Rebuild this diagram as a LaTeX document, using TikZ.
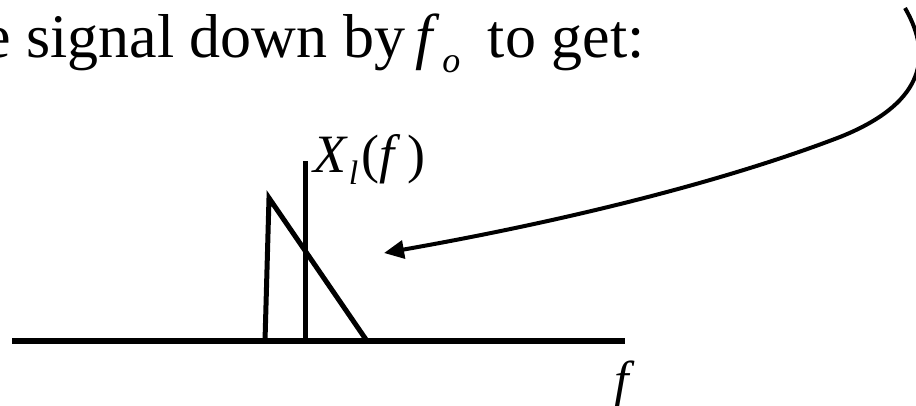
\documentclass[tikz,border=0pt]{standalone}
\usepackage{fontspec}
\setmainfont{Liberation Serif}
\usetikzlibrary{arrows.meta,positioning}
\tikzset{
  fax/.style={line width=6pt},
  vax/.style={line width=5pt},
  spec/.style={line width=5pt, line join=miter},
  shiftarr/.style={line width=4pt, -{Triangle[length=20pt,width=18pt]}},
  ttl/.style={anchor=base west, inner sep=0pt, font=\fontsize{62}{70}\selectfont},
  alab/.style={anchor=base west, inner sep=0pt, font=\fontsize{54}{60}\selectfont},
}
\newcommand{\lowsub}[3]{\raisebox{#1}{\fontsize{#2}{#2}\selectfont\textit{#3}}}

\begin{document}
\begin{tikzpicture}[x=1pt,y=-1pt]
\useasboundingbox (0,0) rectangle (916,405);
\clip (0,0) rectangle (916,405);
\node[ttl] (title) at (-17,57) {e signal down by\hspace{10pt}\textit{f}\kern3pt\lowsub{-15pt}{36}{o}\hspace{12pt} to get:};
\draw[fax] (12,341) -- (625,341);
\draw[vax] (305,341) -- (305,161);
\draw[spec] (265,341) -- (269,198) -- (367,341);
\node[alab] (xlab) at (313,172) {\textit{X}\kern1pt\lowsub{-12pt}{34}{l}\kern3pt(\textit{f}\kern7pt)};
\node[alab, font=\fontsize{52}{56}\selectfont] (flab) at (614,397) {\textit{f}};
\coordinate (src) at (905,8);
\coordinate (knee) at (840,137);
\coordinate (tip) at (384,253);
\draw[shiftarr] (src) .. controls (935,60) and (920,105) .. (knee)
  .. controls (720,183) and (560,222) .. (tip);
\end{tikzpicture}
\end{document}
